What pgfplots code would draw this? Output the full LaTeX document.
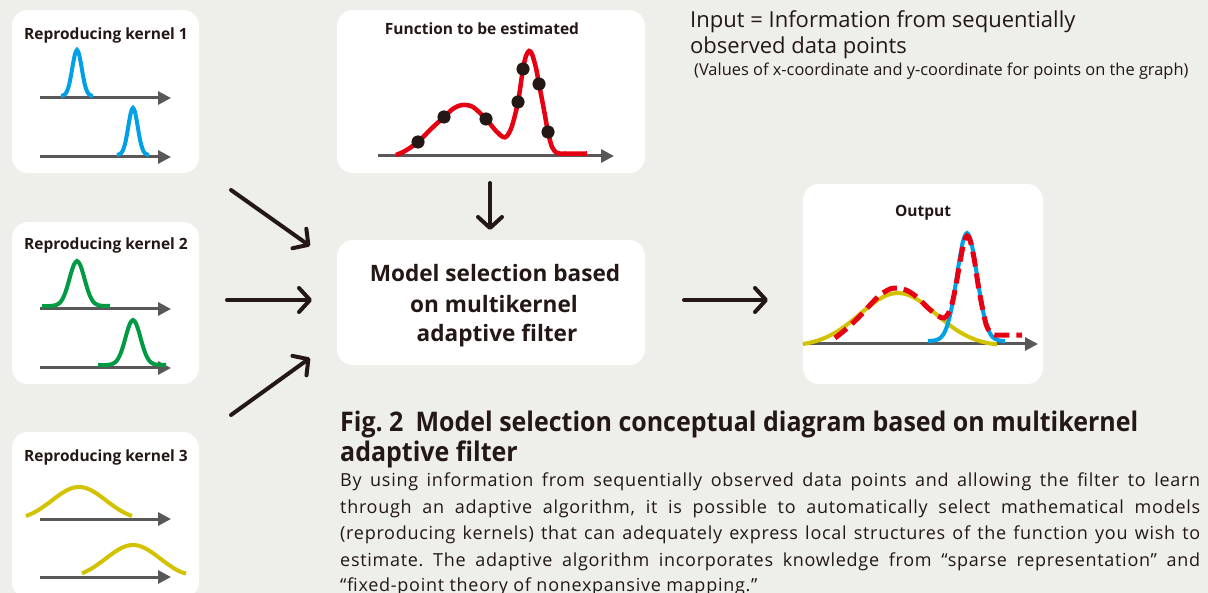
\documentclass[border=0pt]{standalone}
\usepackage{fontspec}
\setmainfont{Open Sans}
\newfontfamily\titlefont{Open Sans}[FakeStretch=0.925]
\newfontfamily\bodyfont{Open Sans}[LetterSpace=4]
\usepackage{pgfplots}
\pgfplotsset{compat=1.18}
\usetikzlibrary{arrows.meta}
\frenchspacing
\definecolor{bg}{HTML}{EEEEEA}
\definecolor{kblue}{HTML}{00A0E9}
\definecolor{kgreen}{HTML}{009944}
\definecolor{kyellow}{HTML}{D2C200}
\definecolor{kred}{HTML}{E60012}
\definecolor{axgray}{HTML}{595757}
\definecolor{ink}{HTML}{231815}
\tikzset{
  axarrow/.style={axgray, line width=3pt, -{Triangle[length=13pt,width=13pt]}},
  bigarrow/.style={ink, line width=4pt, line cap=round, -{Straight Barb[length=11pt,width=24pt,line width=4pt,round]}},
  box/.style={fill=white, rounded corners=16pt},
}
\newcommand{\bt}{\bfseries\fontsize{15.5}{18}\selectfont}
\newcommand{\mt}{\bfseries\fontsize{22.6}{26}\selectfont}
\newcommand{\bd}{\bodyfont\frenchspacing\fontsize{18}{21}\selectfont}
\begin{document}
\begin{tikzpicture}[text=ink]
\begin{axis}[width=1208pt,height=593pt,scale only axis,
  xmin=0,xmax=1208,ymin=0,ymax=593,y dir=reverse,
  hide axis,clip=false]
% background and boxes
\fill[bg] (axis cs:0,0) rectangle (axis cs:1208,593);
\fill[box] (axis cs:12,10) rectangle (axis cs:199,173);
\fill[box] (axis cs:12,222) rectangle (axis cs:199,384);
\fill[box] (axis cs:12,432) rectangle (axis cs:199,598);
\fill[box] (axis cs:337,10) rectangle (axis cs:645,173);
\fill[box] (axis cs:337,240) rectangle (axis cs:645,365);
\fill[box] (axis cs:803,184) rectangle (axis cs:1043,384);
% small axes
\draw[axarrow] (axis cs:40,98) -- (axis cs:171,98);
\draw[axarrow] (axis cs:40,157) -- (axis cs:171,157);
\draw[axarrow] (axis cs:40,309) -- (axis cs:171,309);
\draw[axarrow] (axis cs:40,368) -- (axis cs:171,368);
\draw[axarrow] (axis cs:40,519) -- (axis cs:171,519);
\draw[axarrow] (axis cs:40,577) -- (axis cs:171,577);
\draw[axarrow] (axis cs:378,156) -- (axis cs:614,156);
\draw[axarrow] (axis cs:808,344) -- (axis cs:1038,344);
% kernel 1 (blue)
\addplot[kblue, line width=4pt, smooth, no markers] coordinates {
(61,95.9) (63,95.5) (65,94.3) (67,91.2) (69,85.2) (71,75.6) (73,64.0) (75,54.0) (77,50)
(79,54.0) (81,64.0) (83,75.6) (85,85.2) (87,91.2) (89,94.3) (91,95.5) (93,95.9)};
\addplot[kblue, line width=4pt, smooth, no markers] coordinates {
(117,154.9) (119,154.4) (121,153.3) (123,150.1) (125,144) (127,134.2) (129,122.3) (131,112) (133,108)
(135,112) (137,122.3) (139,134.2) (141,144) (143,150.1) (145,153.3) (147,154.4) (149,154.9)};
% kernel 2 (green)
\addplot[kgreen, line width=4pt, smooth, no markers] coordinates {
(42,306) (50,306) (53,305.7) (56,305.1) (59,303.5) (62,299.9) (65,293.5) (68,284.1) (71,273.3) (74,264.5) (77,261)
(80,264.5) (83,273.3) (86,284.1) (89,293.5) (92,299.9) (95,303.5) (98,305.1) (101,305.7) (110,306)};
\addplot[kgreen, line width=4pt, smooth, no markers] coordinates {
(98,365) (106,365) (109,364.7) (112,364.1) (115,362.5) (118,358.9) (121,352.5) (124,343.1) (127,332.3) (130,323.5) (133,320)
(136,323.5) (139,332.3) (142,343.1) (145,352.5) (148,358.9) (151,362.5) (154,364.1) (157,364.7) (166,365)};
% kernel 3 (yellow)
\addplot[kyellow, line width=4pt, smooth, no markers] coordinates {
(26,516.0) (31,514.0) (37,510.9) (43,507.0) (49,502.7) (55,498.1) (61,493.8) (67,490.2) (73,487.8) (79,487)
(85,487.8) (91,490.2) (97,493.8) (103,498.1) (109,502.7) (115,507.0) (121,510.9) (127,514.0) (132,516.0)};
\addplot[kyellow, line width=4pt, smooth, no markers] coordinates {
(82,573.4) (85,572) (91,568.9) (97,565) (103,560.7) (109,556.1) (115,551.8) (121,548.2) (127,545.8) (133,545)
(139,545.8) (145,548.2) (151,551.8) (157,556.1) (163,560.7) (169,565) (175,568.9) (181,572) (186,573.6)};
% function to be estimated
\addplot[kred, line width=4.5pt, smooth, no markers] coordinates {
(396,155) (405,151) (418,142) (431,129) (444,117) (454,108) (463,105) (473,107) (486,119) (496,131)
(503,137) (507,136) (512,126) (518,102) (523,69) (526,56) (529,51) (532,54) (536,68) (539,84)
(544,110) (548,132) (552,147) (557,153) (565,153.5) (587,153.5)};
\addplot[only marks, mark=*, mark size=6.3pt, ink, mark options={fill=ink}] coordinates {
(418,142) (444,117) (486,119) (518,102) (523,69) (539,84) (548,132)};
% output
\addplot[kyellow, line width=4pt, smooth, no markers] coordinates {
(803,344) (808,343.1) (818,340.5) (828,336.5) (838,331) (848,323.9) (858,315.7) (868,307.3) (878,299.9) (888,294.8) (898,293)
(908,294.8) (918,299.9) (928,307.3) (938,315.7) (948,323.9) (958,331) (968,336.5) (978,340.5) (988,343.1) (997,344.3)};
\addplot[kblue, line width=4pt, smooth, no markers] coordinates {
(928,341) (935,340.4) (939,338.9) (943,335) (947,326.4) (951,311) (955,288.4) (959,262.6) (963,241.3) (967,233)
(971,241.3) (975,262.6) (979,288.4) (983,311) (987,326.4) (991,335) (995,338.9) (999,340.4) (1005,341)};
\addplot[kred, line width=5pt, smooth, no markers, dash pattern=on 15pt off 7pt] coordinates {
(835,338) (845,330) (858,318) (870,305) (880,295) (890,289) (898,288) (908,291) (918,298) (928,308)
(938,316) (944,318) (948,314) (952,304) (956,285) (960,262) (964,242) (967,236) (970,240) (974,258)
(978,284) (982,306) (986,324) (990,332) (995,335) (1022,335)};
% big arrows
\draw[bigarrow] (axis cs:231,190) -- (axis cs:310,246);
\draw[bigarrow] (axis cs:227,300) -- (axis cs:312,300);
\draw[bigarrow] (axis cs:231,415) -- (axis cs:310,358);
\draw[bigarrow] (axis cs:490,183) -- (axis cs:490,230);
\draw[bigarrow] (axis cs:684,300) -- (axis cs:768,300);
% box titles
\node[anchor=base, font=\bt] at (axis cs:106,40) {Reproducing kernel 1};
\node[anchor=base, font=\bt] at (axis cs:106,250) {Reproducing kernel 2};
\node[anchor=base, font=\bt] at (axis cs:106,462) {Reproducing kernel 3};
\node[anchor=base, font=\bt] at (axis cs:482,35) {Function to be estimated};
\node[anchor=base, font=\bt] at (axis cs:923,217) {Output};
% model box text
\node[anchor=base, font=\mt] at (axis cs:495,282) {Model selection based};
\node[anchor=base, font=\mt] at (axis cs:494,313) {on multikernel};
\node[anchor=base, font=\mt] at (axis cs:497,342) {adaptive filter};
% input text
\node[anchor=base west, inner sep=0pt, font=\fontsize{22}{25}\selectfont] at (axis cs:690,28) {Input = Information from sequentially};
\node[anchor=base west, inner sep=0pt, font=\fontsize{22}{25}\selectfont] at (axis cs:690,54) {observed data points};
\node[anchor=base west, inner sep=0pt, font=\fontsize{16.4}{19}\selectfont] at (axis cs:694,76) {(Values of x-coordinate and y-coordinate for points on the graph)};
% caption
\node[anchor=base west, inner sep=0pt, font=\titlefont\bfseries\fontsize{27}{30}\selectfont] at (axis cs:340,432) {Fig. 2\hspace{0.45em}Model selection conceptual diagram based on multikernel};
\node[anchor=base west, inner sep=0pt, font=\titlefont\bfseries\fontsize{27}{30}\selectfont] at (axis cs:340,462) {adaptive filter};
\node[anchor=base west, inner sep=0pt, font=\bd] at (axis cs:340,486) {\makebox[860pt][s]{By using information from sequentially observed data points and allowing the filter to learn}};
\node[anchor=base west, inner sep=0pt, font=\bd] at (axis cs:340,513) {\makebox[860pt][s]{through an adaptive algorithm, it is possible to automatically select mathematical models}};
\node[anchor=base west, inner sep=0pt, font=\bd] at (axis cs:340,539) {\makebox[860pt][s]{(reproducing kernels) that can adequately express local structures of the function you wish to}};
\node[anchor=base west, inner sep=0pt, font=\bd] at (axis cs:340,566) {\makebox[860pt][s]{estimate. The adaptive algorithm incorporates knowledge from “sparse representation” and}};
\node[anchor=base west, inner sep=0pt, font=\bd] at (axis cs:340,591) {“fixed-point theory of nonexpansive mapping.”};
\end{axis}
\pgfresetboundingbox
\useasboundingbox (current axis.south west) rectangle (current axis.north east);
\end{tikzpicture}
\end{document}
